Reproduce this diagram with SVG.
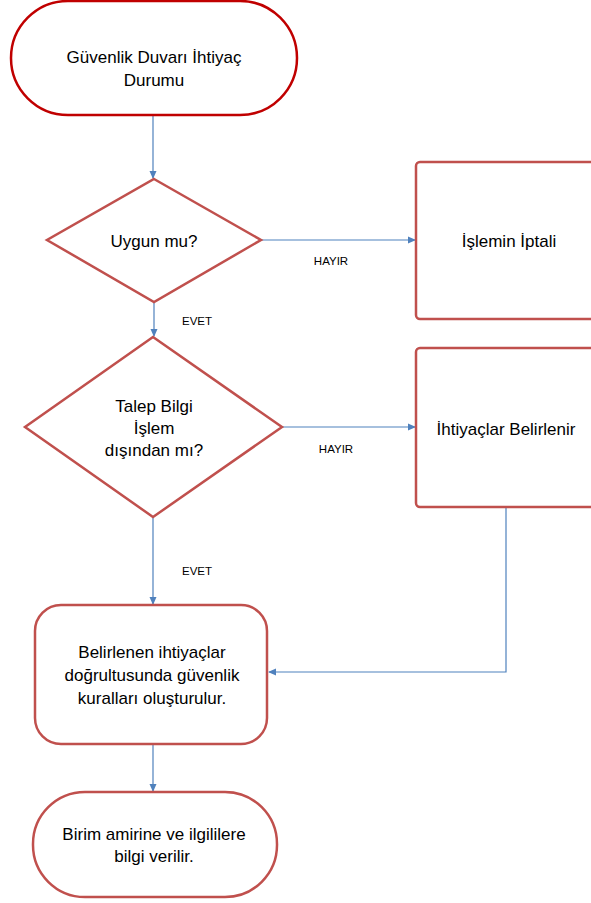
<svg xmlns="http://www.w3.org/2000/svg" width="591" height="903" viewBox="0 0 591 903">
<style>
.shape{fill:#fff;stroke:#C0504D;stroke-width:2.5}
.dark{stroke:#C00000}
.t{font-family:"Liberation Sans",Arial,sans-serif;font-size:17px;fill:#000;text-anchor:middle}
.lbl{font-family:"Liberation Sans",Arial,sans-serif;font-size:11.5px;fill:#000;text-anchor:middle}
.c{fill:none;stroke:#4F81BD;stroke-width:1.2}
</style>
<defs>
<marker id="ah" markerWidth="8" markerHeight="8" refX="7" refY="4" orient="auto" markerUnits="userSpaceOnUse">
<path d="M0,0.5 L8,4 L0,7.5 Z" fill="#4F81BD"/>
</marker>
</defs>
<rect width="591" height="903" fill="#fff"/>
<g id="connectors">
<path class="c" d="M153,116 V178" marker-end="url(#ah)"/>
<path class="c" d="M262,240 H415" marker-end="url(#ah)"/>
<path class="c" d="M154,302 V336" marker-end="url(#ah)"/>
<path class="c" d="M283,427 H415" marker-end="url(#ah)"/>
<path class="c" d="M153,518 V604" marker-end="url(#ah)"/>
<path class="c" d="M506,508 V672 H269" marker-end="url(#ah)"/>
<path class="c" d="M153,745 V791" marker-end="url(#ah)"/>
<text class="lbl" x="331" y="265">HAYIR</text>
<text class="lbl" x="197" y="325">EVET</text>
<text class="lbl" x="336" y="453">HAYIR</text>
<text class="lbl" x="197" y="575">EVET</text>
</g>
<g id="start">
<rect class="shape dark" x="11" y="1" width="286" height="114" rx="57" ry="57"/>
<text class="t" x="154" y="63">Güvenlik Duvarı İhtiyaç</text>
<text class="t" x="154" y="86">Durumu</text>
</g>
<g id="decision1">
<path class="shape" d="M154,179 L261,240 L154,302 L47,240 Z"/>
<text class="t" x="154" y="247">Uygun mu?</text>
</g>
<g id="cancel">
<rect class="shape" x="416" y="162" width="200" height="157" rx="4"/>
<text class="t" x="509" y="247">İşlemin İptali</text>
</g>
<g id="decision2">
<path class="shape" d="M153,337 L282,427 L153,517 L25,427 Z"/>
<text class="t" x="154" y="412">Talep Bilgi</text>
<text class="t" x="154" y="434">İşlem</text>
<text class="t" x="154" y="456">dışından mı?</text>
</g>
<g id="needs">
<rect class="shape" x="416" y="348" width="200" height="159" rx="4"/>
<text class="t" x="506" y="435">İhtiyaçlar Belirlenir</text>
</g>
<g id="rules">
<rect class="shape" x="35" y="605" width="232" height="139" rx="26"/>
<text class="t" x="152" y="658">Belirlenen ihtiyaçlar</text>
<text class="t" x="152" y="681">doğrultusunda güvenlik</text>
<text class="t" x="152" y="704">kuralları oluşturulur.</text>
</g>
<g id="end">
<rect class="shape" x="33" y="792" width="244" height="105" rx="52" ry="52"/>
<text class="t" x="154" y="840">Birim amirine ve ilgililere</text>
<text class="t" x="154" y="862">bilgi verilir.</text>
</g>
</svg>
